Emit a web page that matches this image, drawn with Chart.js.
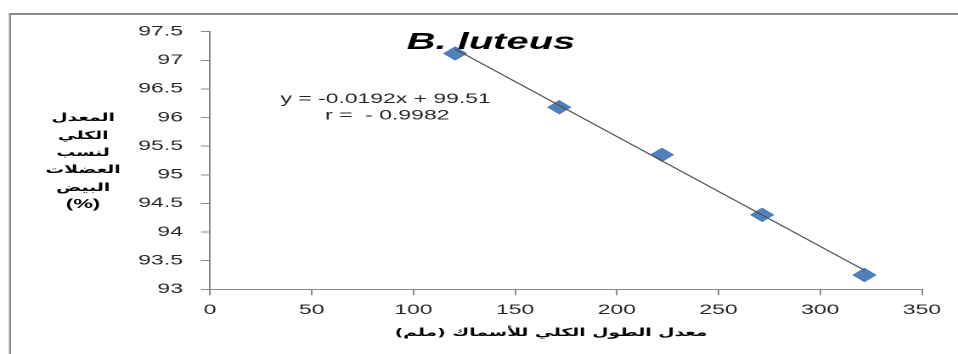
<!DOCTYPE html>
<html><head><meta charset="utf-8">
<script src="https://cdn.jsdelivr.net/npm/chart.js@4/dist/chart.umd.min.js"></script>
<style>
html,body{margin:0;padding:0;background:#fff;overflow:hidden;width:958px;height:354px;}
#wrap{position:absolute;left:0;top:0;width:564px;height:354px;transform:scaleX(1.6986);transform-origin:0 0;}
</style></head><body>
<div id="wrap"><canvas id="c"></canvas></div>
<script>
// ---- data ----
const xValues = [120.5, 171.7, 222.2, 271.4, 321.7];
const yValues = [97.12, 96.18, 95.35, 94.30, 93.25];
const slope = -0.0192;
const intercept = 99.51;
const rText = '- 0.9982';
const chartTitle = 'B. luteus';
const xTitle = 'معدل الطول الكلي للأسماك (ملم)';
const yTitleLines = ['المعدل', 'الكلي', 'لنسب', 'العضلات', 'البيض', '(%)'];
const xTickRange = [0, 350, 50];
const yTickRange = [93, 97.5, 0.5];

const points = xValues.map((x, i) => ({x: x, y: yValues[i]}));
const xMin = Math.min(...xValues), xMax = Math.max(...xValues);
const trend = [{x: xMin, y: slope * xMin + intercept}, {x: xMax, y: slope * xMax + intercept}];
const eqText = 'y = ' + slope + 'x + ' + intercept;

const AXIS = '#8a8a8a';
const TXT = '#262626';

const overlay = {
  id: 'overlay',
  afterDraw(chart) {
    const ctx = chart.ctx;
    ctx.save();
    // outer frame
    ctx.fillStyle = '#8c8c8c';
    ctx.fillRect(5.3, 13, 700, 2);
    ctx.fillRect(5.3, 13, 1.2, 400);
    // title
    ctx.fillStyle = '#000';
    ctx.textAlign = 'center';
    ctx.textBaseline = 'alphabetic';
    ctx.font = 'italic bold 23.5px "Liberation Sans"';
    ctx.fillText(chartTitle, 289, 49);
    // equation
    ctx.fillStyle = TXT;
    ctx.font = '13.5px "Liberation Sans"';
    ctx.fillText(eqText, 227, 103);
    ctx.fillText('r =  ' + rText, 228, 119.5);
    // y title (horizontal, stacked)
    ctx.direction = 'rtl';
    ctx.fillStyle = '#000';
    const ys = [121, 139, 156, 173, 191, 208];
    yTitleLines.forEach((t, i) => {
      ctx.font = (i === yTitleLines.length - 1) ? 'bold 13px "Liberation Sans"' : 'bold 11px "DejaVu Sans"';
      ctx.fillText(t, 48.9, ys[i]);
    });
    // x title
    ctx.font = 'bold 11px "DejaVu Sans"';
    ctx.fillText(xTitle, 324.4, 336);
    ctx.restore();
  }
};

new Chart(document.getElementById('c'), {
  type: 'scatter',
  data: {
    datasets: [
      {
        type: 'line', data: trend, borderColor: '#4d4d4d', borderWidth: 1,
        pointRadius: 0, fill: false, order: 0
      },
      {
        data: points, pointStyle: 'rectRot', pointRadius: 6.5,
        backgroundColor: '#4F81BD', borderColor: '#4A7EBB', borderWidth: 1, order: 1
      }
    ]
  },
  options: {
    responsive: true, maintainAspectRatio: false, animation: false,
    devicePixelRatio: 2,
    layout: {padding: {left: 0, top: 31.7, right: 21.2, bottom: 0}},
    plugins: {legend: {display: false}, tooltip: {enabled: false}, title: {display: false}},
    scales: {
      x: {
        type: 'linear', min: xTickRange[0], max: xTickRange[1],
        ticks: {stepSize: xTickRange[2], padding: 7, color: TXT, font: {family: '"Liberation Sans"', size: 13.5}, maxRotation: 0,
                callback: v => String(v)},
        grid: {drawOnChartArea: false, tickLength: 6, color: AXIS},
        border: {color: AXIS, width: 1},
        afterFit(s) { s.height = 64.7; }
      },
      y: {
        type: 'linear', min: yTickRange[0], max: yTickRange[1],
        ticks: {stepSize: yTickRange[2], padding: 10.6, color: TXT, font: {family: '"Liberation Sans"', size: 13.5},
                callback: v => String(Math.round(v * 10) / 10)},
        grid: {drawOnChartArea: false, tickLength: 5.3, color: AXIS},
        border: {color: AXIS, width: 1},
        afterFit(s) { s.width = 123.6; }
      }
    }
  },
  plugins: [overlay]
});
</script>
</body></html>
